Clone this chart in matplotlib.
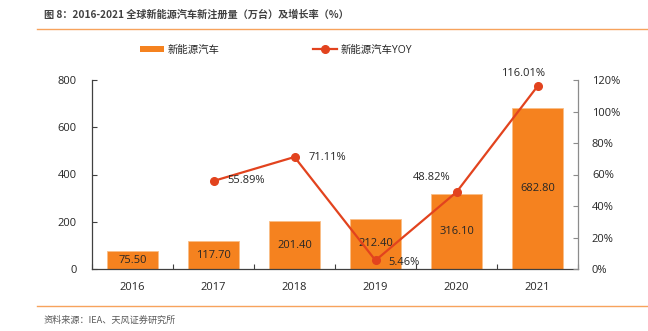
import matplotlib
matplotlib.use("Agg")
import matplotlib.pyplot as plt
from matplotlib.patches import Patch
from matplotlib.lines import Line2D
from matplotlib.ticker import FuncFormatter

plt.rcParams['font.family'] = ['Open Sans', 'Noto Sans CJK SC', 'DejaVu Sans']

years = ['2016', '2017', '2018', '2019', '2020', '2021']
registrations = [75.50, 117.70, 201.40, 212.40, 316.10, 682.80]
yoy_years = ['2017', '2018', '2019', '2020', '2021']
yoy = [55.89, 71.11, 5.46, 48.82, 116.01]

title = '图 8：2016-2021 全球新能源汽车新注册量（万台）及增长率（%）'
source = '资料来源：IEA、天风证券研究所'
bar_label = '新能源汽车'
line_label = '新能源汽车YOY'

bar_color = '#F5821F'
line_color = '#E2431E'
text_color = '#262626'
rule_color = '#F7A35C'

fig = plt.figure(figsize=(6.48, 3.31), dpi=100)
ax = fig.add_axes([92/648, 62/331, 486/648, 189/331])
ax2 = ax.twinx()

x = list(range(len(years)))
bars = ax.bar(x, registrations, width=0.62, color=bar_color,
              edgecolor='#F9BE87', linewidth=0.6, zorder=2)
for xi, v in zip(x, registrations):
    ax.text(xi, v / 2, f'{v:.2f}', ha='center', va='center',
            fontsize=8, color=text_color, zorder=5)

ax.set_xlim(-0.5, len(years) - 0.5)
ax.set_ylim(0, 800)
ax.set_yticks([0, 200, 400, 600, 800])
ax.set_xticks(x)
ax.set_xticklabels(years)
ax.set_xticks([i - 0.5 for i in range(len(years) + 1)], minor=True)
ax.tick_params(axis='x', which='major', length=0, pad=9, labelsize=8,
               labelcolor=text_color)
ax.tick_params(axis='x', which='minor', direction='in', length=3.5,
               width=0.8, color='#404040')
ax.tick_params(axis='y', direction='in', length=3.5, width=0.8,
               color='#404040', pad=11, labelsize=8, labelcolor=text_color)

for s in ['top', 'right']:
    ax.spines[s].set_visible(False)
ax.spines['left'].set_color('#404040')
ax.spines['bottom'].set_color('#404040')
ax.spines['left'].set_linewidth(0.9)
ax.spines['bottom'].set_linewidth(0.9)

# line series on secondary axis
xi_yoy = [years.index(y) for y in yoy_years]
ax2.plot(xi_yoy, yoy, color=line_color, linewidth=1.6, marker='o',
         markersize=5.5, zorder=4)
ax2.set_ylim(0, 120)
ax2.set_yticks([0, 20, 40, 60, 80, 100, 120])
ax2.yaxis.set_major_formatter(FuncFormatter(lambda v, p: f'{v:.0f}%'))
ax2.tick_params(axis='y', direction='in', length=3.5, width=0.8,
                color='#8C8C8C', pad=10, labelsize=8, labelcolor=text_color)
for s in ['top', 'left', 'bottom']:
    ax2.spines[s].set_visible(False)
ax2.spines['right'].set_color('#8C8C8C')
ax2.spines['right'].set_linewidth(0.9)

offsets = {
    '2017': (14, 0, 'left'),
    '2018': (14, 0, 'left'),
    '2019': (13, -2, 'left'),
    '2020': (-25, 15, 'center'),
    '2021': (-14, 13, 'center'),
}
for yr, xi, v in zip(yoy_years, xi_yoy, yoy):
    dx, dy, ha = offsets[yr]
    ax2.annotate(f'{v:.2f}%', (xi, v), xytext=(dx, dy),
                 textcoords='offset pixels', ha=ha, va='center',
                 fontsize=8, color=text_color, zorder=6)

# legend
handles = [Patch(facecolor=bar_color, edgecolor='none'),
           Line2D([0], [0], color=line_color, linewidth=1.6, marker='o',
                  markersize=5.5)]
fig.legend(handles, [bar_label, line_label], loc='center',
           bbox_to_anchor=(276/648, (331-50)/331), ncol=2, frameon=False,
           fontsize=7.5, handlelength=2.3, handleheight=0.5,
           handletextpad=0.3, columnspacing=9.0, labelcolor=text_color)

# title, rules and source
fig.text(44/648, (331-15)/331, title, fontsize=7.3, fontweight='bold',
         color='#404040', ha='left', va='center',
         family=['Noto Sans CJK SC', 'DejaVu Sans'])
fig.add_artist(Line2D([37/648, 1], [(331-29)/331]*2, color=rule_color,
                      linewidth=1.0, transform=fig.transFigure))
fig.add_artist(Line2D([37/648, 1], [(331-306)/331]*2, color=rule_color,
                      linewidth=1.0, transform=fig.transFigure))
fig.text(44/648, (331-320)/331, source, fontsize=6.6, color='#595959',
         ha='left', va='center', family=['Noto Sans CJK SC', 'DejaVu Sans'])

fig.savefig('out.png', dpi=100)
